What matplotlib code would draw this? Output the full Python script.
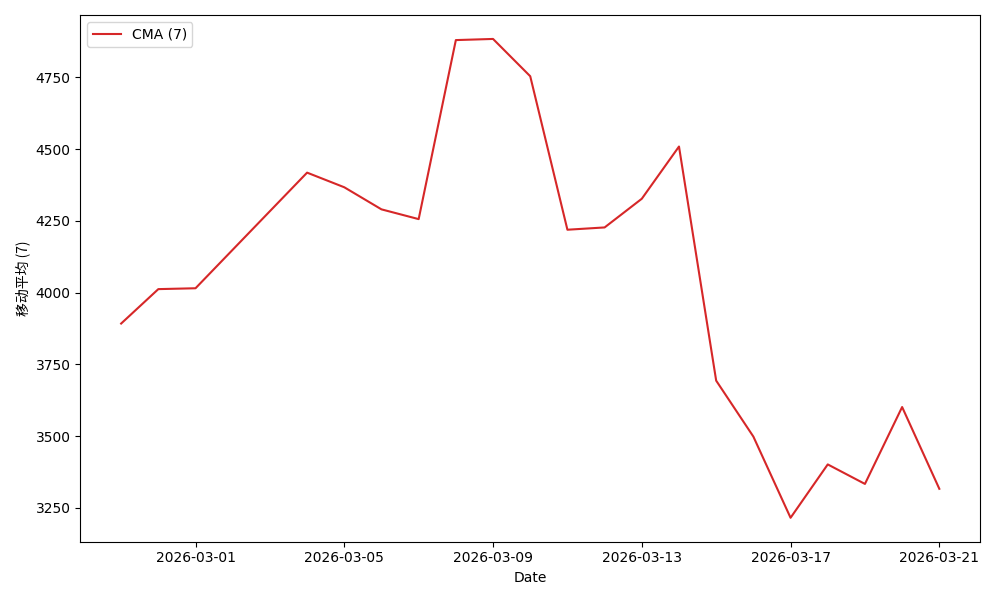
import matplotlib
matplotlib.use('Agg')
import matplotlib.pyplot as plt
import matplotlib.dates as mdates
import pandas as pd

# Centered moving average (window 7)
dates = [
    '2026-02-27', '2026-02-28', '2026-03-01', '2026-03-04', '2026-03-05',
    '2026-03-06', '2026-03-07', '2026-03-08', '2026-03-09', '2026-03-10',
    '2026-03-11', '2026-03-12', '2026-03-13', '2026-03-14', '2026-03-15',
    '2026-03-16', '2026-03-17', '2026-03-18', '2026-03-19', '2026-03-20',
    '2026-03-21',
]
cma_values = [
    3892, 4012, 4015, 4418, 4367,
    4290, 4256, 4880, 4884, 4754,
    4219, 4227, 4327, 4509, 3693,
    3498, 3215, 3401, 3333, 3601,
    3316,
]
series_label = 'CMA (7)'
y_label = '移动平均 (7)'

x = pd.to_datetime(dates)

fig, ax = plt.subplots(figsize=(10, 6), dpi=100)
ax.plot(x, cma_values, color='#d62728', linewidth=1.5, label=series_label)

ax.xaxis.set_major_locator(mdates.DayLocator(bymonthday=[1, 5, 9, 13, 17, 21]))
ax.xaxis.set_major_formatter(mdates.DateFormatter('%Y-%m-%d'))
ax.set_yticks([3250, 3500, 3750, 4000, 4250, 4500, 4750])

ax.set_xlabel('Date')
ax.set_ylabel(y_label, family=['Noto Sans CJK SC', 'DejaVu Sans'])
ax.legend(loc='upper left')

plt.tight_layout()
fig.savefig('out.png')
plt.close(fig)
